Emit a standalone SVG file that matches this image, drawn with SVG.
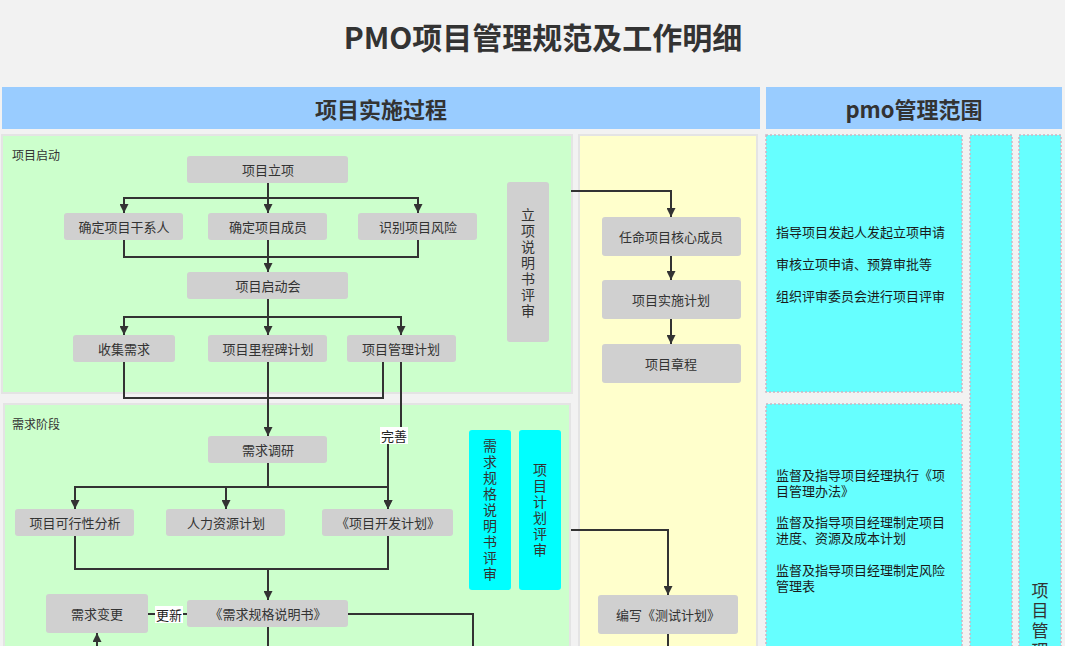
<svg xmlns="http://www.w3.org/2000/svg" width="1065" height="646" viewBox="0 0 1065 646">
<defs>
<style>
text{font-family:"Noto Sans CJK SC","Noto Sans",sans-serif;fill:#333}
.node{fill:#d0d0d0}
.nt{font-size:13px;text-anchor:middle;dominant-baseline:central}
.vt{font-size:14px;text-anchor:middle;writing-mode:vertical-rl;letter-spacing:2px}
.panel{fill:#ccffcc;stroke:#e4e4e4;stroke-width:2}
.yel{fill:#ffffcc;stroke:#e4e4e4;stroke-width:2}
.cy{fill:#66ffff;stroke:#c9b6c4;stroke-width:1.5;stroke-dasharray:2 2}
.rev{fill:#00ffff}
.hdr{fill:#99ccff}
.ht{font-size:22px;font-weight:bold;text-anchor:middle;dominant-baseline:central}
.pl{font-size:12px}
.rt{font-size:13px;fill:#1a1a1a}
.c{fill:none;stroke:#333;stroke-width:2}
.a{marker-end:url(#arr)}
.lb{fill:#ffffff}
.lt{font-size:13px;text-anchor:middle;dominant-baseline:central;fill:#222}
</style>
<marker id="arr" viewBox="0 0 10 10" refX="10" refY="5" markerWidth="12" markerHeight="9" markerUnits="userSpaceOnUse" orient="auto">
<path d="M0,0 L10,5 L0,10 z" fill="#333"/>
</marker>
</defs>
<rect x="0" y="0" width="1065" height="646" fill="#f2f2f2"/>
<text x="543" y="36" font-size="30" font-weight="bold" text-anchor="middle" dominant-baseline="central">PMO项目管理规范及工作明细</text>

<g id="header-left"><rect class="hdr" x="2" y="87" width="758" height="42"/><text class="ht" x="381" y="108">项目实施过程</text></g>
<g id="header-right"><rect class="hdr" x="766" y="87" width="296" height="42"/><text class="ht" x="914" y="108">pmo管理范围</text></g>

<g id="panel-start"><rect class="panel" x="2" y="135" width="570" height="258"/><text class="pl" x="12" y="160">项目启动</text></g>
<g id="panel-req"><rect class="panel" x="4" y="404" width="566" height="260"/><text class="pl" x="12" y="429">需求阶段</text></g>
<g id="panel-yellow"><rect class="yel" x="579" y="135" width="178" height="530"/></g>

<g id="pmo-a"><rect class="cy" x="766" y="135" width="196" height="257"/>
<text class="rt" x="776" y="237">指导项目发起人发起立项申请</text>
<text class="rt" x="776" y="269">审核立项申请、预算审批等</text>
<text class="rt" x="776" y="301">组织评审委员会进行项目评审</text></g>
<g id="pmo-b"><rect class="cy" x="766" y="404" width="196" height="260"/>
<text class="rt"><tspan x="776" y="480">监督及指导项目经理执行《项</tspan><tspan x="776" y="496">目管理办法》</tspan></text>
<text class="rt"><tspan x="776" y="527">监督及指导项目经理制定项目</tspan><tspan x="776" y="543">进度、资源及成本计划</tspan></text>
<text class="rt"><tspan x="776" y="575">监督及指导项目经理制定风险</tspan><tspan x="776" y="591">管理表</tspan></text></g>
<g id="pmo-c"><rect class="cy" x="970" y="135" width="42" height="530"/></g>
<g id="pmo-d"><rect class="cy" x="1019" y="135" width="42" height="530"/>
<text x="1040" y="582" font-size="17" style="writing-mode:vertical-rl;letter-spacing:3px">项目管理</text></g>

<g id="connectors">
<path class="c a" d="M268,183 V213"/>
<path class="c a" d="M268,198 H124 V213"/>
<path class="c a" d="M268,198 H418 V213"/>
<path class="c" d="M124,240 V257 H418 V240"/>
<path class="c a" d="M268,240 V272"/>
<path class="c a" d="M268,299 V335"/>
<path class="c a" d="M268,317 H124 V335"/>
<path class="c a" d="M268,317 H401 V335"/>
<path class="c" d="M124,362 V398 H383 V362"/>
<path class="c a" d="M268,362 V436"/>
<path class="c a" d="M401,362 V436 H388 V509"/>
<path class="c a" d="M268,463 V487 H75 V509"/>
<path class="c a" d="M268,487 H226 V509"/>
<path class="c a" d="M268,487 H388 V509"/>
<path class="c" d="M75,536 V569 H388 V536"/>
<path class="c a" d="M268,569 V600"/>
<path class="c" d="M187,614 H148"/>
<path class="c a" d="M97,660 V633"/>
<path class="c" d="M268,627 V660"/>
<path class="c" d="M348,614 H473 V660"/>
<path class="c a" d="M571,191 H671 V217"/>
<path class="c a" d="M671,256 V280"/>
<path class="c a" d="M671,319 V344"/>
<path class="c a" d="M571,530 H668 V595"/>
<path class="c" d="M668,634 V660"/>
<rect class="lb" x="380" y="427" width="28" height="17"/><text class="lt" x="394" y="435">完善</text>
<rect class="lb" x="155" y="606" width="28" height="17"/><text class="lt" x="169" y="614">更新</text>
</g>

<g id="n-lixiang"><rect class="node" x="187" y="156" width="161" height="27" rx="3"/><text class="nt" x="268" y="169">项目立项</text></g>
<g id="n-ganxi"><rect class="node" x="64" y="213" width="119" height="27" rx="3"/><text class="nt" x="124" y="226">确定项目干系人</text></g>
<g id="n-chengyuan"><rect class="node" x="208" y="213" width="119" height="27" rx="3"/><text class="nt" x="268" y="226">确定项目成员</text></g>
<g id="n-fengxian"><rect class="node" x="358" y="213" width="119" height="27" rx="3"/><text class="nt" x="418" y="226">识别项目风险</text></g>
<g id="n-qidonghui"><rect class="node" x="187" y="272" width="161" height="27" rx="3"/><text class="nt" x="268" y="285">项目启动会</text></g>
<g id="n-shouji"><rect class="node" x="73" y="335" width="102" height="27" rx="3"/><text class="nt" x="124" y="348">收集需求</text></g>
<g id="n-lichengbei"><rect class="node" x="208" y="335" width="119" height="27" rx="3"/><text class="nt" x="268" y="348">项目里程碑计划</text></g>
<g id="n-guanli"><rect class="node" x="347" y="335" width="109" height="27" rx="3"/><text class="nt" x="401" y="348">项目管理计划</text></g>
<g id="n-lxsmspsh"><rect class="node" x="507" y="182" width="42" height="160" rx="3"/>
<text class="vt" x="528" y="264">立项说明书评审</text></g>

<g id="n-diaoyan"><rect class="node" x="208" y="436" width="119" height="27" rx="3"/><text class="nt" x="268" y="449">需求调研</text></g>
<g id="n-kexing"><rect class="node" x="15" y="509" width="119" height="27" rx="3"/><text class="nt" x="75" y="522">项目可行性分析</text></g>
<g id="n-renli"><rect class="node" x="166" y="509" width="119" height="27" rx="3"/><text class="nt" x="226" y="522">人力资源计划</text></g>
<g id="n-kaifa"><rect class="node" x="322" y="509" width="131" height="27" rx="3"/><text class="nt" x="388" y="522">《项目开发计划》</text></g>
<g id="n-guige"><rect class="node" x="187" y="600" width="161" height="27" rx="3"/><text class="nt" x="268" y="613">《需求规格说明书》</text></g>
<g id="n-biangeng"><rect class="node" x="46" y="594" width="102" height="39" rx="3"/><text class="nt" x="97" y="613">需求变更</text></g>
<g id="n-xqgg-review"><rect class="rev" x="469" y="430" width="42" height="160" rx="3"/>
<text class="vt" x="490" y="511">需求规格说明书评审</text></g>
<g id="n-jihua-review"><rect class="rev" x="519" y="430" width="42" height="160" rx="3"/>
<text class="vt" x="540" y="511">项目计划评审</text></g>

<g id="n-renming"><rect class="node" x="602" y="217" width="139" height="39" rx="3"/><text class="nt" x="671" y="236">任命项目核心成员</text></g>
<g id="n-shishi"><rect class="node" x="602" y="280" width="139" height="39" rx="3"/><text class="nt" x="671" y="299">项目实施计划</text></g>
<g id="n-zhangcheng"><rect class="node" x="602" y="344" width="139" height="39" rx="3"/><text class="nt" x="671" y="363">项目章程</text></g>
<g id="n-ceshi"><rect class="node" x="598" y="595" width="140" height="39" rx="3"/><text class="nt" x="668" y="614">编写《测试计划》</text></g>
</svg>
